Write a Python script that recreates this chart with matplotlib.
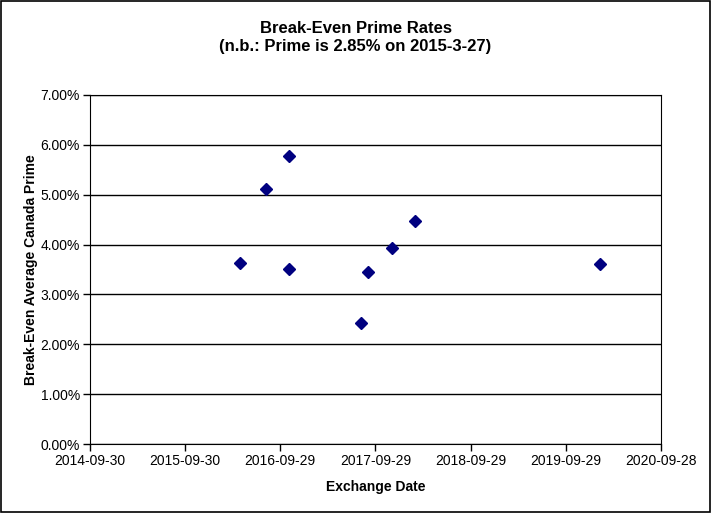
import datetime as dt
import matplotlib
matplotlib.use('Agg')
import matplotlib.pyplot as plt
import matplotlib.dates as mdates
from matplotlib.ticker import FuncFormatter
from matplotlib.patches import Rectangle

# data
datas = ['2016-04-30', '2016-08-04', '2016-11-02', '2016-11-02', '2017-08-03',
         '2017-09-02', '2017-12-02', '2018-03-01', '2020-02-06']
taxas = [3.62, 5.11, 5.78, 3.50, 2.43, 3.44, 3.93, 4.47, 3.61]
inicio = dt.date(2014, 9, 30)
n_ticks = 7

plt.rcParams['font.family'] = ['Liberation Sans', 'DejaVu Sans']

fig = plt.figure(figsize=(7.11, 5.13), dpi=100)
ax = fig.add_axes([0.126, 0.1345, 0.804, 0.6805])

x = [dt.datetime.strptime(d, '%Y-%m-%d') for d in datas]
y = [t / 100 for t in taxas]
ax.plot(x, y, linestyle='none', marker='D', markersize=6.5, color='#000080')

ticks = [inicio + dt.timedelta(days=365 * k) for k in range(n_ticks)]
ax.set_xlim(ticks[0], ticks[-1])
ax.set_xticks(ticks)
ax.xaxis.set_major_formatter(mdates.DateFormatter('%Y-%m-%d'))
ax.set_ylim(0, 0.07)
ax.set_yticks([i / 100 for i in range(8)])
ax.yaxis.set_major_formatter(FuncFormatter(lambda v, p: f'{v * 100:.2f}%'))
ax.grid(axis='y', color='black', linewidth=1)
ax.set_axisbelow(True)
ax.tick_params(direction='out', length=5, width=1, color='black', labelsize=10, pad=2)
for s in ax.spines.values():
    s.set_color('black')

ax.set_xlabel('Exchange Date', fontsize=10, fontweight='bold', labelpad=9)
ax.set_ylabel('Break-Even Average Canada Prime', fontsize=10, fontweight='bold', labelpad=2)

fig.text(0.5, 0.945, 'Break-Even Prime Rates', ha='center', va='center',
         fontsize=12, fontweight='bold')
fig.text(0.5, 0.910, '(n.b.: Prime is 2.85% on 2015-3-27)', ha='center', va='center',
         fontsize=12, fontweight='bold')

fig.patches.append(Rectangle((0.001, 0.001), 0.997, 0.997, transform=fig.transFigure,
                             fill=False, edgecolor='black', linewidth=1.2))

fig.savefig('out.png', dpi=100)
